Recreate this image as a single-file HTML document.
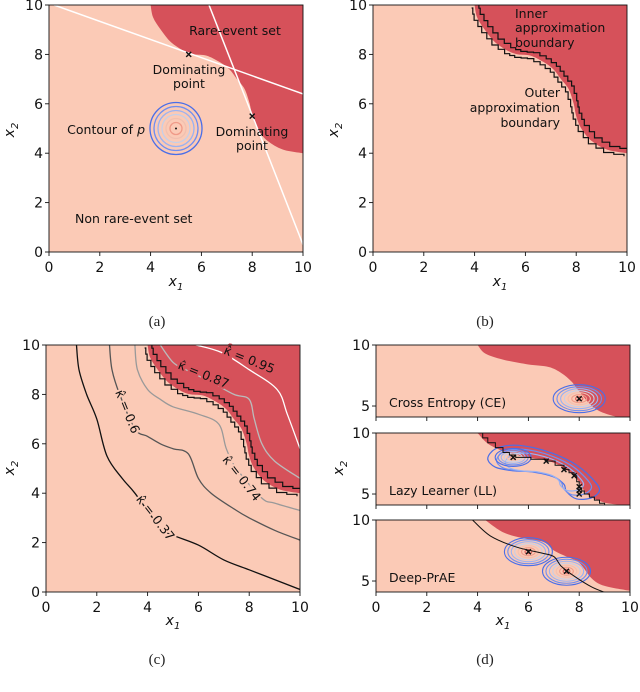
<!DOCTYPE html>
<html><head><meta charset="utf-8"><style>
html,body{margin:0;padding:0;background:#fff;overflow:hidden;width:640px;height:692px;}
svg{display:block;font-family:"DejaVu Sans","Liberation Sans",sans-serif;}
.tk{font-size:14px;fill:#111;}
.lb{font-size:12.5px;fill:#111;}
.cap{font-family:"Liberation Serif",serif;font-size:15px;fill:#222;}
</style></head><body>
<svg id="fig" width="640" height="692" viewBox="0 0 640 692"></svg>
<script>
// ---- data arrays ----
const xTicks=[0,2,4,6,8,10];
const yTicks=[0,2,4,6,8,10];
const yTicksD=[5,10];
const rareBoundaryA=[[4.0,10],[4.1,9.5],[4.4,9.0],[4.8,8.5],[5.3,8.15],[5.7,8.0],[6.2,7.95],[6.7,7.7],[7.1,7.4],[7.4,7.0],[7.7,6.6],[7.9,6.0],[8.0,5.5],[8.2,5.0],[8.6,4.5],[9.2,4.15],[10,4.0]];
const halfLine1=[[0.2,10],[10,6.4]];
const halfLine2=[[6.3,10],[10,0.3]];
const domPoints=[[5.5,8.0],[8.0,5.5]];
const nominalMean=[5,5];
const contourRadii=[26,22,18,14,10,6];
const k37=[[1.2,10],[1.3,9],[1.6,8],[2,7],[2.4,5.5],[3,4.6],[3.5,4],[4.5,2.6],[5,2.3],[6,1.9],[7,1.3],[8,0.9],[9,0.5],[10,0.1]];
const k60=[[2.5,10],[2.6,9],[2.9,8],[3.5,6.6],[4,6.3],[4.5,6],[5,5.8],[5.6,5.6],[6,4.6],[6.5,4],[7.5,3.3],[8,3],[9,2.5],[10,2.1]];
const k74=[[3.5,10],[3.6,9],[4,8.2],[4.5,7.8],[5,7.5],[6,7.2],[6.8,6.8],[7.1,5.8],[7.5,5],[8.5,3.8],[9,3.6],[10,3.3]];
const k87=[[4.5,10],[5,9.3],[5.5,9.0],[6.5,8.5],[7.4,8],[8,7.8],[8.2,7],[8.5,6],[9,5.3],[10,4.6]];
const k95=[[5.9,10],[6.9,9.7],[8,9.0],[9.1,8.2],[9.5,7.2],[10,5.8]];
const kLabels=[["0.37",4.3,3.0,52],["0.6",3.2,7.3,68],["0.74",7.7,4.6,52],["0.87",6.2,8.8,22],["0.95",8.0,9.4,22]];
const ceBoundary=[[4,10],[4.3,9.3],[5,8.8],[6,8.4],[6.8,8.2],[7.3,7.7],[7.7,7],[8,6.2],[8.5,5],[9,4.4],[9.7,4.0]];
const llBoundary=[[4,10],[4.5,9],[5.5,8.2],[6.8,7.7],[7.5,7],[8,6],[8.3,5],[9,4.3],[10,4.05]];
const dpBoundary=[[4.3,10],[5,9],[5.8,8.5],[6.6,8.2],[7,7.5],[7.5,7],[8,6.5],[8.5,5.2],[9,4.6],[10,4.2]];
const llLine=[[4,10],[4.4,9.2],[5,8.4],[5.5,8],[6.7,7.7],[7.4,7],[7.8,6.5],[8,5.5],[8.2,5],[8.6,4.5],[9,4]];
const dpLine=[[3.8,10],[4.5,8.7],[5.5,7.8],[6.5,7.3],[7,7],[7.3,6.2],[7.8,5.4],[8.5,4.5],[9.1,4]];
const ceMean=[8,5.6];
const llPoints=[[5.4,8],[6.7,7.7],[7.4,7.0],[7.8,6.5],[8,5.6],[8,5.3],[8,5.0]];
const llBlob=[[4.4,7.9],[4.7,8.7],[5.4,9.0],[6.2,8.8],[7,8.3],[7.8,7.5],[8.4,6.5],[8.8,5.4],[8.5,4.7],[7.9,4.6],[7.5,5.2],[7.4,5.8],[7,6.4],[6.2,6.8],[5.4,6.9],[4.7,7.2]];
const dpMeans=[[6,7.4],[7.5,5.8]];

const LIGHT="#fbcab6", DARK="#d6515a";
const NS="http://www.w3.org/2000/svg";
const fig=document.getElementById('fig');
function el(tag,attrs,parent){const e=document.createElementNS(NS,tag);for(const k in attrs)e.setAttribute(k,attrs[k]);(parent||fig).appendChild(e);return e;}
let clipId=0;
function axes(x0,y0,w,h,ymin,ymax,name){
  const sx=v=>x0+v/10*w, sy=v=>y0+h-(v-ymin)/(ymax-ymin)*h;
  const id='c'+(clipId++);
  const cp=el('clipPath',{id:id});el('rect',{x:x0,y:y0,width:w,height:h},cp);
  const g=el('g',{'clip-path':'url(#'+id+')'});
  
  
  el('rect',{x:x0,y:y0,width:w,height:h,fill:LIGHT},g);
  return {sx,sy,g,x0,y0,w,h};
}
function pathD(a,pts,close){return pts.map((p,i)=>(i?'L':'M')+a.sx(p[0]).toFixed(1)+','+a.sy(p[1]).toFixed(1)).join('')+(close?'Z':'');}
function smoothD(a,pts,close){
  const P=pts.map(p=>[a.sx(p[0]),a.sy(p[1])]);const n=P.length;
  let d='M'+P[0][0]+','+P[0][1];
  const cnt=close?n:n-1;
  for(let i=0;i<cnt;i++){
    const p0=P[close?(i-1+n)%n:Math.max(i-1,0)],p1=P[i],p2=P[(i+1)%n],p3=P[close?(i+2)%n:Math.min(i+2,n-1)];
    d+='C'+(p1[0]+(p2[0]-p0[0])/6).toFixed(1)+','+(p1[1]+(p2[1]-p0[1])/6).toFixed(1)+' '+(p2[0]-(p3[0]-p1[0])/6).toFixed(1)+','+(p2[1]-(p3[1]-p1[1])/6).toFixed(1)+' '+p2[0].toFixed(1)+','+p2[1].toFixed(1);
  }
  return d+(close?'Z':'');
}
function darkRegion(a,bnd,name){
  const d=smoothD(a,bnd,false)+'L'+a.sx(10)+','+a.sy(-100)+'L'+a.sx(100)+','+a.sy(-100)+'L'+a.sx(100)+','+a.sy(100)+'Z';
  const p=el('path',{d:d,fill:DARK},a.g);
  
  
}
function stair(a,bnd,off){
  const pts=[];
  for(let i=0;i<bnd.length-1;i++){pts.push([bnd[i][0]+off,bnd[i][1]+off]);}
  pts.push([bnd[bnd.length-1][0]+off,bnd[bnd.length-1][1]+off]);
  const s=[pts[0]];
  for(let i=1;i<pts.length;i++){
    const m=[(pts[i-1][0]+pts[i][0])/2,(pts[i-1][1]+pts[i][1])/2];
    s.push([m[0],pts[i-1][1]]);s.push(m);s.push([pts[i][0],m[1]]);s.push(pts[i]);
  }
  return s;
}
function frame(a,ticks,ymin,ymax,showX,name){
  el('rect',{x:a.x0,y:a.y0,width:a.w,height:a.h,fill:'none',stroke:'#111','stroke-width':0.9});
  xTicks.forEach(v=>{
    el('line',{x1:a.sx(v),x2:a.sx(v),y1:a.y0+a.h,y2:a.y0+a.h+4,stroke:'#111','stroke-width':0.9});
    if(showX){const t=el('text',{x:a.sx(v),y:a.y0+a.h+20,'text-anchor':'middle',class:'tk'});t.textContent=v;
      
      }
  });
  ticks.forEach(v=>{
    el('line',{x1:a.x0-4,x2:a.x0,y1:a.sy(v),y2:a.sy(v),stroke:'#111','stroke-width':0.9});
    const t=el('text',{x:a.x0-6,y:a.sy(v)+5,'text-anchor':'end',class:'tk'});t.textContent=v;
    
    
  });
}
function axLabels(cx,xy,ly,lx){
  const t=el('text',{x:cx,y:xy,'text-anchor':'middle',class:'tk','font-style':'italic'});
  t.innerHTML='x<tspan font-size="10" dy="4">1</tspan>';
  
  
  const u=el('text',{x:lx,y:ly,'text-anchor':'middle',class:'tk','font-style':'italic',transform:'rotate(-90 '+lx+' '+ly+')'});
  u.innerHTML='x<tspan font-size="10" dy="4">2</tspan>';
  
  
}
function txt(x,y,s,anchor,cls,name){const t=el('text',{x:x,y:y,'text-anchor':anchor||'start',class:cls||'lb'});t.textContent=s;
  
  return t;}
function cross(g,x,y,s){el('path',{d:`M${x-s},${y-s}L${x+s},${y+s}M${x-s},${y+s}L${x+s},${y-s}`,stroke:'#111','stroke-width':1.4},g);}
const blues=['#4a6ee8','#6f8ef0','#9ab2f2','#c5cfe8','#f0c0b0','#f09a88','#e0605a'];
function ellipses(g,cx,cy,rx,ry,n){for(let i=0;i<n;i++){const f=1-i/n;el('ellipse',{cx:cx,cy:cy,rx:rx*f,ry:ry*f,fill:'none',stroke:blues[Math.min(i,blues.length-1)],'stroke-width':1.1},g);}}

// ===== Panel A =====
const A=axes(49,5,254,247,0,10,'panel-a');
darkRegion(A,rareBoundaryA,'rare-event-set-region');
[halfLine1,halfLine2].forEach(l=>{const p=el('path',{d:pathD(A,l),stroke:'#fff','stroke-width':1.5,fill:'none'},A.g);
  
  });
domPoints.forEach(p=>cross(A.g,A.sx(p[0]),A.sy(p[1]),2.5));
contourRadii.forEach((r,i)=>el('circle',{cx:A.sx(nominalMean[0]),cy:A.sy(nominalMean[1]),r:r,fill:'none',stroke:blues[i],'stroke-width':1.3},A.g));
el('circle',{cx:A.sx(nominalMean[0]),cy:A.sy(nominalMean[1]),r:1,fill:'#111'},A.g);
frame(A,yTicks,0,10,true,'a');axLabels(176,286,130,14);
txt(235,35,'Rare-event set','middle','lb','rare-event-label');
txt(189,74,'Dominating','middle','lb','dominating-point-label');txt(189,88,'point','middle','lb','dominating-point-label');
txt(252,136,'Dominating','middle','lb','dominating-point-label');txt(252,150,'point','middle','lb','dominating-point-label');
const cp=txt(145,134,'','end','lb','contour-label');cp.innerHTML='Contour of <tspan font-style="italic">p</tspan>';
txt(75,223,'Non rare-event set','start','lb','non-rare-event-label');
txt(157,326,'(a)','middle','cap','caption-a');

// ===== Panel B =====
const B=axes(373,5,254,247,0,10,'panel-b');
darkRegion(B,rareBoundaryA,'rare-event-set-region');
[[stair(B,rareBoundaryA,0.12),'inner-boundary'],[stair(B,rareBoundaryA,-0.12),'outer-boundary']].forEach(s=>{const p=el('path',{d:pathD(B,s[0]),stroke:'#111','stroke-width':1.2,fill:'none'},B.g);
  
  });
frame(B,yTicks,0,10,true,'b');axLabels(500,286,130,338);
txt(515,18,'Inner','start','lb','inner-boundary-label');txt(515,32,'approximation','start','lb','inner-boundary-label');txt(515,47,'boundary','start','lb','inner-boundary-label');
txt(560,97,'Outer','end','lb','outer-boundary-label');txt(560,112,'approximation','end','lb','outer-boundary-label');txt(560,127,'boundary','end','lb','outer-boundary-label');
txt(485,326,'(b)','middle','cap','caption-b');

// ===== Panel C =====
const C=axes(46,345,254,247,0,10,'panel-c');
darkRegion(C,rareBoundaryA,'rare-event-set-region');
[[k37,'#111'],[k60,'#555'],[k74,'#999'],[k87,'#bbb'],[k95,'#fff']].forEach(c=>{const p=el('path',{d:smoothD(C,c[0]),stroke:c[1],'stroke-width':1.3,fill:'none'},C.g);
  
  });
[stair(C,rareBoundaryA,0.12),stair(C,rareBoundaryA,-0.12)].forEach(s=>el('path',{d:pathD(C,s),stroke:'#111','stroke-width':1.2,fill:'none'},C.g));
kLabels.forEach(k=>{const x=C.sx(k[1]),y=C.sy(k[2]);const t=el('text',{x:x,y:y+4,'text-anchor':'middle',class:'lb',transform:`rotate(${k[3]} ${x} ${y})`,'paint-order':'stroke',stroke:k[2]>8?DARK:LIGHT,'stroke-width':4});t.textContent='\u03BA\u0302 = '+k[0];
  
  });
frame(C,yTicks,0,10,true,'c');axLabels(173,625,468,14);
txt(157,664,'(c)','middle','cap','caption-c');

// ===== Panel D =====
const subs=[[345,ceBoundary,'Cross Entropy (CE)'],[433,llBoundary,'Lazy Learner (LL)'],[520,dpBoundary,'Deep-PrAE']];
subs.forEach((s,i)=>{
  const D=axes(376,s[0],254,72,4.1,10,'panel-d-'+(i+1));
  darkRegion(D,s[1],'rare-event-set-region');
  if(i==0){ellipses(D.g,D.sx(ceMean[0]),D.sy(ceMean[1]),26,14,7);cross(D.g,D.sx(ceMean[0]),D.sy(ceMean[1]),2.5);}
  if(i==1){
    const cx=llBlob.reduce((a,p)=>a+p[0],0)/llBlob.length, cy=llBlob.reduce((a,p)=>a+p[1],0)/llBlob.length;
    [1,0.85,0.7].forEach((f,j)=>el('path',{d:smoothD(D,llBlob.map(p=>[cx+(p[0]-cx)*f,cy+(p[1]-cy)*f]),true),fill:'none',stroke:blues[j],'stroke-width':1.2},D.g));
    ellipses(D.g,D.sx(llPoints[0][0]),D.sy(llPoints[0][1]),18,9,6);
    el('path',{d:pathD(D,stair(D,llLine,0)),stroke:'#111','stroke-width':1,fill:'none'},D.g);
    llPoints.forEach(p=>cross(D.g,D.sx(p[0]),D.sy(p[1]),2.5));
  }
  if(i==2){
    dpMeans.forEach(m=>ellipses(D.g,D.sx(m[0]),D.sy(m[1]),24,14,7));
    el('path',{d:smoothD(D,dpLine),stroke:'#111','stroke-width':1,fill:'none'},D.g);
    dpMeans.forEach(m=>cross(D.g,D.sx(m[0]),D.sy(m[1]),2.5));
  }
  frame(D,yTicksD,4.1,10,i==2,'d');
  txt(389,s[0]+62,s[2],'start','lb','method-label');
});
axLabels(503,625,468,343);
txt(485,664,'(d)','middle','cap','caption-d');
</script>
</body></html>
